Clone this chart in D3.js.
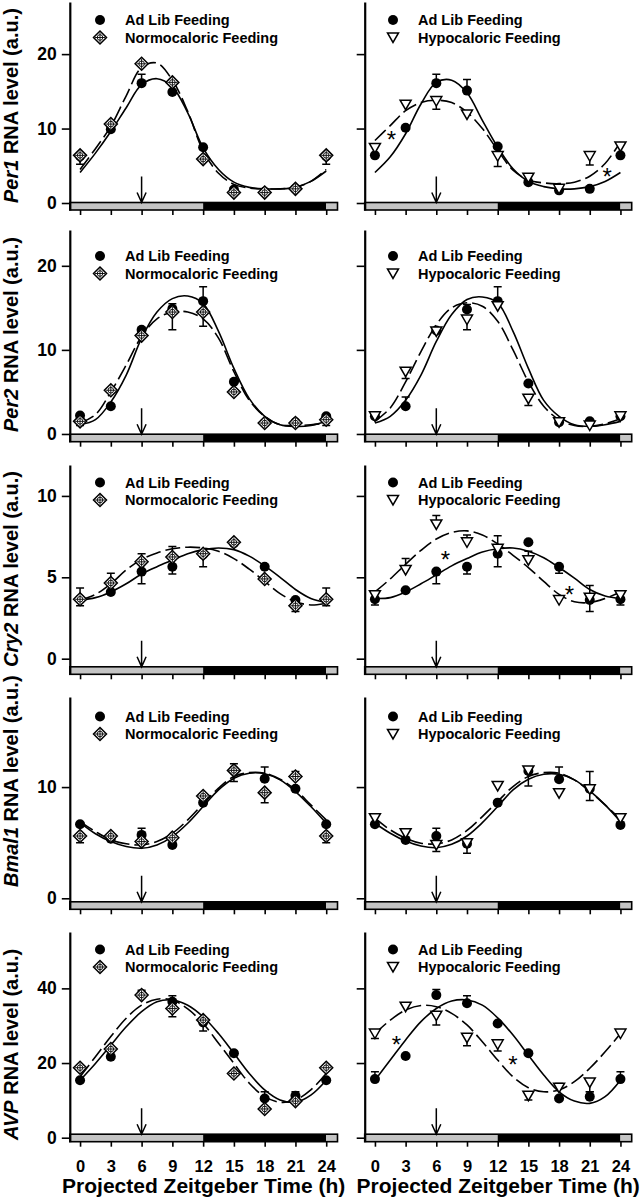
<!DOCTYPE html>
<html>
<head>
<meta charset="utf-8">
<script src="https://cdn.jsdelivr.net/npm/d3@7"></script>
<style>
  body { margin: 0; background: #fff; }
  svg { display: block; font-family: "Liberation Sans", Arial, sans-serif; font-weight: bold; }
</style>
</head>
<body>
<div id="container"></div>
<script>
const width = 640;
const height = 1200;

// sampling times (h) and read-off points of the fitted curves
const times = [0, 3, 6, 9, 12, 15, 18, 21, 24];
const fitTimes = [0, 1.5, 3, 4.5, 6, 7.5, 9, 10.5, 12, 13.5, 15, 16.5, 18, 19.5, 21, 22.5, 24];

const genes = ['Per1', 'Per2', 'Cry2', 'Bmal1', 'AVP'];
const yTickValues = [[0, 10, 20], [0, 10, 20], [0, 5, 10], [0, 10], [0, 20, 40]];
const legendAdLib = 'Ad Lib Feeding';
const legendNormo = 'Normocaloric Feeding';
const legendHypo = 'Hypocaloric Feeding';
const xTitle = 'Projected Zeitgeber Time (h)';
const lightDark = [[-1, 12, 'light'], [12, 24, 'dark'], [24, 25.1, 'light']];
const arrowTime = 6;

// ---- Per1 ----
const per1AdLibL = [6.3, 9.9, 16.1, 14.9, 7.5, 1.8, 1.5, 1.9, 6.3];
const per1NormoL = [6.4, 10.6, 18.7, 16.2, 5.9, 1.4, 1.4, 1.9, 6.4];
const per1AdLibR = [6.4, 10.1, 16.1, 15.1, 7.6, 2.8, 1.7, 1.9, 6.4];
const per1HypoR = [7.4, 13.2, 13.7, 11.9, 6.3, 3.4, 1.9, 6.3, 7.6];
const per1AdLibFitL = [4.1, 6.7, 9.6, 12.8, 15.9, 16.7, 15.6, 12.1, 7.4, 4.5, 2.8, 2.1, 1.9, 1.9, 2.1, 2.9, 4.3];
const per1NormoFitL = [4.5, 7.3, 10.3, 14.4, 18.2, 18.8, 16.5, 12.3, 7.0, 4.0, 2.5, 2.0, 1.9, 1.9, 2.1, 2.9, 4.5];
const per1AdLibFitR = [4.1, 6.2, 9.3, 13.3, 16.2, 16.5, 14.8, 11.1, 7.5, 4.6, 2.9, 2.2, 1.9, 1.9, 2.2, 2.9, 4.1];
const per1HypoFitR = [8.4, 10.4, 12.4, 13.5, 13.8, 13.5, 12.2, 10.0, 7.1, 4.4, 3.1, 2.7, 2.6, 2.8, 3.6, 5.3, 8.2];
const per1AdLibErrL = [[6, 17.3]];
const per1NormoErrL = [[0, 5.2], [24, 5.2]];
const per1AdLibErrR = [[6, 17.3], [9, 16.6]];
const per1HypoErrR = [[6, 12.6], [12, 4.9], [21, 5.1]];
const per1StarsR = [[1.6, 9.1], [22.7, 4.1]];

// ---- Per2 ----
const per2AdLibL = [2.2, 3.3, 12.4, 14.9, 15.8, 6.2, 1.3, 1.4, 2.1];
const per2NormoL = [1.5, 5.2, 11.7, 14.5, 14.5, 5.0, 1.3, 1.3, 1.7];
const per2AdLibR = [2.1, 3.3, 12.3, 14.8, 15.8, 6.0, 1.4, 1.5, 2.1];
const per2HypoR = [2.1, 7.4, 12.2, 13.6, 15.2, 4.2, 1.4, 1.0, 2.1];
const per2AdLibFitL = [1.1, 1.7, 3.8, 7.0, 11.4, 14.5, 16.1, 16.4, 15.5, 12.2, 7.8, 4.2, 2.1, 1.1, 0.9, 1.0, 1.5];
const per2NormoFitL = [1.3, 2.3, 5.0, 8.2, 11.6, 13.7, 14.5, 14.5, 13.7, 11.4, 7.4, 4.0, 2.1, 1.1, 1.0, 1.1, 1.3];
const per2AdLibFitR = [1.3, 2.1, 4.0, 7.0, 11.0, 14.2, 16.0, 16.3, 15.6, 12.2, 7.8, 4.0, 2.1, 1.1, 0.9, 1.1, 1.5];
const per2HypoFitR = [1.5, 3.1, 6.2, 9.8, 13.0, 15.0, 15.6, 15.2, 13.4, 10.0, 6.2, 3.3, 1.7, 1.0, 0.9, 1.2, 1.8];
const per2AdLibErrL = [[9, 15.5], [12, 17.5]];
const per2NormoErrL = [[0, 1.0], [9, 12.4], [12, 12.8], [24, 1.0]];
const per2AdLibErrR = [[3, 4.4], [9, 15.4], [12, 17.5]];
const per2HypoErrR = [[3, 6.6], [9, 12.4], [15, 3.4]];

// ---- Cry2 ----
const cry2AdLibL = [3.65, 4.1, 5.35, 5.65, 6.4, 7.1, 5.65, 3.6, 3.65];
const cry2NormoL = [3.65, 4.65, 5.95, 6.25, 6.45, 7.15, 4.9, 3.25, 3.65];
const cry2AdLibR = [3.65, 4.2, 5.35, 5.65, 6.45, 7.15, 5.65, 3.6, 3.65];
const cry2HypoR = [3.9, 5.45, 8.25, 7.15, 6.75, 6.05, 3.6, 3.75, 3.9];
const cry2AdLibFitL = [3.6, 3.75, 4.1, 4.6, 5.2, 5.65, 6.05, 6.45, 6.7, 6.8, 6.7, 6.3, 5.7, 5.0, 4.25, 3.7, 3.45];
const cry2NormoFitL = [3.6, 3.95, 4.6, 5.45, 6.1, 6.5, 6.75, 6.85, 6.8, 6.6, 6.15, 5.5, 4.75, 4.0, 3.5, 3.3, 3.4];
const cry2AdLibFitR = [3.7, 3.75, 4.1, 4.6, 5.15, 5.7, 6.15, 6.55, 6.75, 6.8, 6.6, 6.2, 5.6, 4.95, 4.25, 3.85, 3.7];
const cry2HypoFitR = [4.1, 4.9, 5.8, 6.65, 7.35, 7.75, 7.85, 7.6, 7.05, 6.35, 5.6, 4.75, 3.95, 3.5, 3.45, 3.7, 4.1];
const cry2AdLibErrL = [[6, 4.6], [9, 5.2], [12, 5.65]];
const cry2NormoErrL = [[0, 4.35], [0, 3.25], [3, 5.25], [6, 6.45], [9, 6.9], [21, 2.9], [24, 4.35], [24, 3.25]];
const cry2AdLibErrR = [[0, 3.3], [6, 4.6], [9, 5.2], [12, 7.55], [12, 5.65], [18, 5.25], [21, 2.9], [24, 3.3]];
const cry2HypoErrR = [[0, 4.15], [3, 6.15], [6, 8.8], [9, 7.6], [15, 6.6], [21, 4.5], [24, 4.15]];
const cry2StarsR = [[6.9, 6.4], [19.0, 4.2]];

// ---- Bmal1 ----
const bmal1AdLibL = [6.65, 5.35, 5.7, 4.8, 8.6, 11.5, 10.75, 9.85, 6.65];
const bmal1NormoL = [5.6, 5.6, 5.1, 5.45, 9.2, 11.5, 9.5, 10.95, 5.6];
const bmal1AdLibR = [6.65, 5.25, 5.6, 4.9, 8.6, 11.45, 10.7, 9.85, 6.6];
const bmal1HypoR = [7.2, 5.85, 4.8, 4.95, 10.1, 11.5, 9.45, 9.8, 7.2];
const bmal1AdLibFitL = [6.8, 5.8, 5.1, 4.65, 4.5, 4.8, 5.55, 6.75, 8.25, 9.75, 10.8, 11.25, 11.2, 10.65, 9.6, 8.25, 6.75];
const bmal1NormoFitL = [6.9, 6.0, 5.25, 4.9, 4.8, 5.1, 5.85, 7.05, 8.5, 9.9, 10.95, 11.3, 11.25, 10.7, 9.75, 8.4, 7.05];
const bmal1AdLibFitR = [6.75, 5.85, 5.15, 4.7, 4.55, 4.85, 5.6, 6.8, 8.25, 9.75, 10.7, 11.15, 11.15, 10.65, 9.65, 8.4, 6.9];
const bmal1HypoFitR = [7.2, 6.15, 5.4, 4.95, 4.9, 5.25, 6.1, 7.35, 8.7, 10.05, 10.95, 11.3, 11.25, 10.65, 9.6, 8.4, 7.1];
const bmal1AdLibErrL = [[6, 6.3], [15, 10.5], [18, 11.8]];
const bmal1NormoErrL = [[0, 5.0], [15, 12.1], [18, 8.6], [21, 11.4], [24, 5.0]];
const bmal1AdLibErrR = [[6, 6.3], [18, 11.8]];
const bmal1HypoErrR = [[6, 4.2], [9, 4.05], [15, 10.1], [21, 11.4], [21, 8.8]];

// ---- AVP ----
const avpAdLibL = [15.4, 21.7, 38.4, 36.4, 30.9, 22.6, 10.5, 11.25, 15.4];
const avpNormoL = [18.75, 23.75, 38.2, 34.6, 31.5, 17.2, 7.7, 9.8, 18.75];
const avpAdLibR = [15.7, 21.9, 38.2, 36.0, 30.6, 22.6, 10.5, 11.0, 15.7];
const avpHypoR = [27.9, 35.1, 32.7, 26.8, 25.0, 11.25, 13.4, 14.8, 27.9];
const avpAdLibFitL = [15.4, 19.9, 24.8, 29.7, 33.75, 36.4, 36.9, 35.5, 32.4, 27.9, 22.6, 17.2, 12.8, 10.1, 9.5, 11.4, 15.4];
const avpNormoFitL = [16.3, 21.7, 27.1, 32.0, 35.5, 37.1, 36.9, 34.5, 30.6, 25.3, 19.9, 14.6, 11.0, 9.5, 10.1, 12.8, 17.2];
const avpAdLibFitR = [15.4, 20.8, 26.2, 31.1, 34.6, 36.6, 36.9, 35.5, 32.1, 27.5, 22.1, 16.8, 12.3, 9.8, 9.2, 11.0, 15.4];
const avpHypoFitR = [27.9, 31.5, 34.2, 35.4, 35.1, 33.3, 30.2, 25.7, 20.8, 16.3, 13.4, 12.3, 12.8, 15.0, 18.6, 23.0, 27.9];
const avpAdLibErrL = [[9, 38.0], [12, 28.6], [15, 23.2], [18, 12.3], [21, 12.3]];
const avpNormoErrL = [[6, 39.5], [9, 32.4]];
const avpAdLibErrR = [[0, 17.7], [6, 39.7], [9, 38.0], [15, 23.2], [21, 12.3], [24, 17.7]];
const avpHypoErrR = [[0, 26.6], [6, 30.2], [9, 24.6], [12, 23.2], [15, 10.1], [18, 14.5], [21, 12.3]];
const avpStarsR = [[2.1, 26.2], [13.5, 20.8]];

// ---- layout ----
const rowTop = [2, 230, 465, 697, 932];
const rowBottom = [210, 441.7, 674.3, 909.3, 1141.7];
const rowDomain = [[-0.94, 27], [-0.92, 24.26], [-0.96, 11.9], [-0.99, 18.1], [-1.07, 55.1]];
const rowLegendY = [20, 256, 482.5, 716.5, 949.5];
const rowTitleStart = [203, 432, 667, 887, 1140];
const colRange = [[69.8, 337.5], [364.7, 631.7]];
const legendX = [100, 393];
const barHeight = 7.5;

const panels = [
  [per1AdLibL, per1AdLibFitL, per1AdLibErrL, per1NormoL, per1NormoFitL, per1NormoErrL, [], 'normo'],
  [per1AdLibR, per1AdLibFitR, per1AdLibErrR, per1HypoR, per1HypoFitR, per1HypoErrR, per1StarsR, 'hypo'],
  [per2AdLibL, per2AdLibFitL, per2AdLibErrL, per2NormoL, per2NormoFitL, per2NormoErrL, [], 'normo'],
  [per2AdLibR, per2AdLibFitR, per2AdLibErrR, per2HypoR, per2HypoFitR, per2HypoErrR, [], 'hypo'],
  [cry2AdLibL, cry2AdLibFitL, cry2AdLibErrL, cry2NormoL, cry2NormoFitL, cry2NormoErrL, [], 'normo'],
  [cry2AdLibR, cry2AdLibFitR, cry2AdLibErrR, cry2HypoR, cry2HypoFitR, cry2HypoErrR, cry2StarsR, 'hypo'],
  [bmal1AdLibL, bmal1AdLibFitL, bmal1AdLibErrL, bmal1NormoL, bmal1NormoFitL, bmal1NormoErrL, [], 'normo'],
  [bmal1AdLibR, bmal1AdLibFitR, bmal1AdLibErrR, bmal1HypoR, bmal1HypoFitR, bmal1HypoErrR, [], 'hypo'],
  [avpAdLibL, avpAdLibFitL, avpAdLibErrL, avpNormoL, avpNormoFitL, avpNormoErrL, [], 'normo'],
  [avpAdLibR, avpAdLibFitR, avpAdLibErrR, avpHypoR, avpHypoFitR, avpHypoErrR, avpStarsR, 'hypo']
];

const svg = d3.select('#container')
  .append('svg')
  .attr('width', width)
  .attr('height', height);

// marker drawing
function drawMarker(g, kind) {
  if (kind === 'adlib') {
    g.append('circle').attr('r', 5).attr('fill', '#000');
  } else if (kind === 'normo') {
    g.append('path')
      .attr('d', 'M0,-6.5L6.5,0L0,6.5L-6.5,0Z')
      .attr('fill', '#fff').attr('stroke', '#000').attr('stroke-width', 1.5);
    g.append('circle').attr('r', 2.8)
      .attr('fill', 'none').attr('stroke', '#000').attr('stroke-width', 0.9);
    g.append('path')
      .attr('d', 'M-5,0H5M0,-5V5')
      .attr('stroke', '#000').attr('stroke-width', 0.9);
  } else {
    g.append('path')
      .attr('d', 'M-5.5,-4.5H5.5L0,5Z')
      .attr('fill', '#fff').attr('stroke', '#000').attr('stroke-width', 1.5)
      .attr('stroke-linejoin', 'miter');
  }
}

panels.forEach((p, i) => {
  const row = Math.floor(i / 2);
  const col = i % 2;
  const [ctrl, ctrlFit, ctrlErr, trt, trtFit, trtErr, stars, trtKind] = p;

  const x = d3.scaleLinear().domain([-1, 25.1]).range(colRange[col]);
  const y = d3.scaleLinear().domain(rowDomain[row]).range([rowBottom[row], rowTop[row]]);
  const g = svg.append('g');

  // light/dark bar
  const barY = rowBottom[row] - barHeight;
  g.selectAll('.phase')
    .data(lightDark)
    .join('rect')
    .attr('x', d => x(d[0]))
    .attr('width', d => x(d[1]) - x(d[0]))
    .attr('y', barY)
    .attr('height', barHeight)
    .attr('fill', d => d[2] === 'dark' ? '#000' : '#c4c4c4');
  g.append('rect')
    .attr('x', x(-1)).attr('width', x(25.1) - x(-1))
    .attr('y', barY).attr('height', barHeight)
    .attr('fill', 'none').attr('stroke', '#000').attr('stroke-width', 1.6);

  // x ticks
  const xa = g.append('g')
    .attr('transform', `translate(0,${rowBottom[row]})`)
    .call(d3.axisBottom(x).tickValues(times).tickSize(5).tickPadding(14)
      .tickFormat(row === 4 ? d3.format('d') : () => ''));
  xa.select('.domain').remove();
  xa.attr('font-family', null);
  xa.selectAll('.tick line').attr('stroke-width', 1.6);
  xa.selectAll('text').attr('font-size', 16.5).attr('fill', '#000');

  // y axis
  const ya = g.append('g')
    .attr('transform', `translate(${colRange[col][0]},0)`)
    .call(d3.axisLeft(y).tickValues(yTickValues[row]).tickSize(8).tickPadding(5).tickSizeOuter(0)
      .tickFormat(col === 0 ? d3.format('d') : () => ''));
  ya.attr('font-family', null);
  ya.select('.domain').attr('stroke-width', 2.2);
  ya.selectAll('.tick line').attr('stroke-width', 1.6);
  ya.selectAll('text').attr('font-size', 17.5).attr('fill', '#000');

  // y title
  if (col === 0) {
    const t = svg.append('text')
      .attr('transform', `translate(18,${rowTitleStart[row]}) rotate(-90)`)
      .attr('text-anchor', 'start')
      .attr('font-size', 20);
    t.append('tspan').attr('font-style', 'italic').text(genes[row]);
    t.append('tspan').text(' RNA level (a.u.)');
  }

  // arrow at ZT6
  const ax = x(arrowTime);
  g.append('path')
    .attr('d', `M${ax},${barY - 26}V${barY}M${ax - 4.5},${barY - 10}L${ax},${barY}L${ax + 4.5},${barY - 10}`)
    .attr('fill', 'none').attr('stroke', '#000').attr('stroke-width', 1.5);

  // fitted curves
  const line = d3.line().x(d => x(d[0])).y(d => y(d[1])).curve(d3.curveCatmullRom);
  g.append('path')
    .attr('d', line(fitTimes.map((t, k) => [t, ctrlFit[k]])))
    .attr('fill', 'none').attr('stroke', '#000').attr('stroke-width', 1.6);
  g.append('path')
    .attr('d', line(fitTimes.map((t, k) => [t, trtFit[k]])))
    .attr('fill', 'none').attr('stroke', '#000').attr('stroke-width', 1.6)
    .attr('stroke-dasharray', '15,5');

  // error bars
  const drawErr = (vals, errs) => {
    errs.forEach(([t, cap]) => {
      const k = times.indexOf(t);
      const px = x(t);
      g.append('path')
        .attr('d', `M${px},${y(vals[k])}V${y(cap)}M${px - 4},${y(cap)}H${px + 4}`)
        .attr('fill', 'none').attr('stroke', '#000').attr('stroke-width', 1.5);
    });
  };
  drawErr(ctrl, ctrlErr);
  drawErr(trt, trtErr);

  // points
  g.selectAll('.ctrl')
    .data(times.map((t, k) => [t, ctrl[k]]))
    .join('g')
    .attr('transform', d => `translate(${x(d[0])},${y(d[1])})`)
    .each(function () { drawMarker(d3.select(this), 'adlib'); });
  g.selectAll('.trt')
    .data(times.map((t, k) => [t, trt[k]]))
    .join('g')
    .attr('transform', d => `translate(${x(d[0])},${y(d[1])})`)
    .each(function () { drawMarker(d3.select(this), trtKind); });

  // significance stars
  g.selectAll('.star')
    .data(stars)
    .join('text')
    .attr('x', d => x(d[0]))
    .attr('y', d => y(d[1]) + 13)
    .attr('text-anchor', 'middle')
    .attr('font-size', 24)
    .attr('font-weight', 'normal')
    .text('*');

  // legend
  const lx = legendX[col];
  const ly = rowLegendY[row];
  const l1 = g.append('g').attr('transform', `translate(${lx},${ly})`);
  drawMarker(l1, 'adlib');
  const l2 = g.append('g').attr('transform', `translate(${lx},${ly + 17.5})`);
  drawMarker(l2, trtKind);
  g.append('text').attr('x', lx + 25).attr('y', ly + 5).attr('font-size', 14.5).text(legendAdLib);
  g.append('text').attr('x', lx + 25).attr('y', ly + 22.5).attr('font-size', 14.5)
    .text(trtKind === 'normo' ? legendNormo : legendHypo);

  // x title
  if (row === 4) {
    svg.append('text')
      .attr('x', (colRange[col][0] + colRange[col][1]) / 2)
      .attr('y', 1193)
      .attr('text-anchor', 'middle')
      .attr('font-size', 21)
      .text(xTitle);
  }
});
</script>
</body>
</html>
